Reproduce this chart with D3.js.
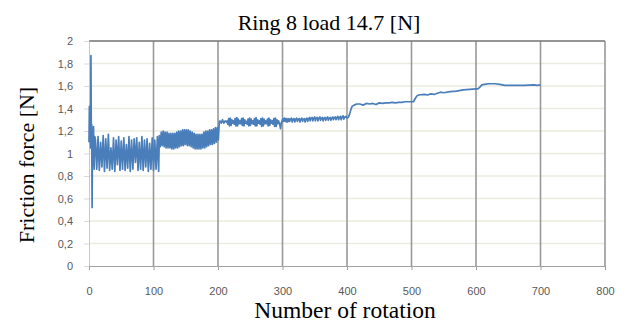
<!DOCTYPE html>
<html>
<head>
<meta charset="utf-8">
<script src="https://cdn.jsdelivr.net/npm/d3@7"></script>
<style>
  html, body { margin: 0; padding: 0; background: #fff; }
  svg { display: block; }
</style>
</head>
<body>
<div id="chart"></div>
<script>
const width = 628;
const height = 324;

const chartTitle = 'Ring 8 load 14.7 [N]';
const xTitle = 'Number of rotation';
const yTitle = 'Friction force [N]';
const xTicks = [0, 100, 200, 300, 400, 500, 600, 700, 800];
const yTicks = [0, 0.2, 0.4, 0.6, 0.8, 1, 1.2, 1.4, 1.6, 1.8, 2];

// [rotation, force], segment by segment
const startSpike = [
  [0, 1.10], [0.6, 1.42], [1.2, 1.12], [1.8, 1.28], [2.4, 1.05], [3, 1.87],
  [3.6, 1.10], [4.2, 1.26], [4.8, 0.52], [5.4, 1.18], [6, 0.90], [7, 1.24],
  [8, 0.86], [9, 1.15],
];
const zigzag = [
  [10, 1.12], [12, 0.86], [14, 1.15], [16, 0.85], [18, 1.10], [20, 0.88],
  [22, 1.16], [24, 0.84], [26, 1.13], [28, 0.87], [30, 1.17], [32, 0.85],
  [34, 1.05], [36, 0.86], [38, 1.14], [40, 0.84], [42, 1.12], [44, 0.90],
  [46, 1.15], [48, 0.85], [50, 1.11], [52, 0.86], [54, 1.14], [56, 0.85],
  [58, 1.08], [60, 0.87], [62, 1.15], [64, 0.84], [66, 1.12], [68, 0.86],
  [70, 1.13], [72, 0.92], [74, 1.14], [76, 0.85], [78, 1.10], [80, 0.86],
  [82, 1.15], [84, 0.85], [86, 1.12], [88, 0.88], [90, 1.13], [92, 0.84],
  [94, 1.09], [96, 0.86], [98, 1.14], [100, 0.85], [102, 1.12], [104, 0.86],
  [106, 1.15], [108, 0.84],
];
const band = [
  [109, 1.16], [110.5, 1.06], [112, 1.19], [113.5, 1.07], [115, 1.20], [116.5, 1.06],
  [118, 1.19], [119.5, 1.05], [121, 1.19], [122.5, 1.05], [124, 1.18], [125.5, 1.05],
  [127, 1.18], [128.5, 1.04], [130, 1.18], [131.5, 1.04], [133, 1.18], [134.5, 1.05],
  [136, 1.19], [137.5, 1.05], [139, 1.20], [140.5, 1.06], [142, 1.20], [143.5, 1.07],
  [145, 1.21], [146.5, 1.07], [148, 1.21], [149.5, 1.08], [151, 1.21], [152.5, 1.07],
  [154, 1.21], [155.5, 1.07], [157, 1.20], [158.5, 1.06], [160, 1.19], [161.5, 1.05],
  [163, 1.18], [164.5, 1.04], [166, 1.17], [167.5, 1.04], [169, 1.17], [170.5, 1.04],
  [172, 1.17], [173.5, 1.04], [175, 1.17], [176.5, 1.05], [178, 1.19], [179.5, 1.05],
  [181, 1.20], [182.5, 1.06], [184, 1.20], [185.5, 1.07], [187, 1.21], [188.5, 1.08],
  [190, 1.21], [191.5, 1.08], [193, 1.22], [194.5, 1.09], [196, 1.23], [197.5, 1.10],
  [199, 1.23], [200.5, 1.12],
];
const beads = [
  [202, 1.28], [203, 1.29], [205, 1.27], [207, 1.30], [209, 1.27], [211, 1.29], [213, 1.28],
  [214, 1.29], [215.25, 1.26], [216.5, 1.31], [217.75, 1.245], [219, 1.315], [220.25, 1.25], [221.5, 1.30], [222.75, 1.27],
  [224, 1.29], [225.25, 1.26], [226.5, 1.31], [227.75, 1.245], [229, 1.32], [230.25, 1.245], [231.5, 1.305], [232.75, 1.265],
  [234, 1.29], [235.25, 1.265], [236.5, 1.31], [237.75, 1.25], [239, 1.315], [240.25, 1.245], [241.5, 1.30], [242.75, 1.27],
  [244, 1.285], [245.25, 1.26], [246.5, 1.305], [247.75, 1.245], [249, 1.315], [250.25, 1.25], [251.5, 1.305], [252.75, 1.265],
  [254, 1.29], [255.25, 1.26], [256.5, 1.31], [257.75, 1.245], [259, 1.32], [260.25, 1.245], [261.5, 1.30], [262.75, 1.27],
  [264, 1.29], [265.25, 1.26], [266.5, 1.31], [267.75, 1.24], [269, 1.315], [270.25, 1.245], [271.5, 1.305], [272.75, 1.265],
  [274, 1.29], [275.25, 1.265], [276.5, 1.305], [277.75, 1.245], [279, 1.315], [280.25, 1.25], [281.5, 1.30], [282.75, 1.27],
  [284, 1.29], [285.25, 1.26], [286.5, 1.31], [287.75, 1.24], [289, 1.315], [290.25, 1.24], [291.5, 1.30], [292.75, 1.265],
  [294, 1.29], [296, 1.25], [297, 1.22], [298, 1.27], [300, 1.30],
];
const plateau300 = [
  [301, 1.31], [302, 1.285], [303, 1.315], [304, 1.29], [305, 1.31], [306, 1.28], [307, 1.31],
  [308, 1.28], [310, 1.31], [311, 1.285], [312, 1.30], [314, 1.315], [315, 1.28], [316, 1.30],
  [318, 1.31], [319, 1.28], [320, 1.30], [322, 1.315], [323, 1.285], [324, 1.30], [326, 1.31],
  [327, 1.28], [328, 1.30], [330, 1.315], [331, 1.285], [332, 1.30], [334, 1.31], [335, 1.28],
  [336, 1.30], [338, 1.315], [339, 1.285], [340, 1.30], [342, 1.32], [343, 1.29], [344, 1.31],
  [346, 1.32], [347, 1.29], [348, 1.31], [350, 1.325], [351, 1.29], [352, 1.31], [354, 1.32],
  [355, 1.29], [356, 1.31], [358, 1.325], [359, 1.295], [360, 1.31], [362, 1.32], [363, 1.29],
  [364, 1.31], [366, 1.32], [367, 1.295], [368, 1.31], [370, 1.325], [371, 1.295], [372, 1.31],
  [374, 1.32], [375, 1.295], [376, 1.31], [378, 1.325], [379, 1.30], [380, 1.315], [382, 1.325],
  [383, 1.30], [384, 1.315], [386, 1.33], [387, 1.30], [388, 1.315], [390, 1.33], [391, 1.30],
  [392, 1.32], [394, 1.335], [395, 1.305], [396, 1.32], [398, 1.33], [400, 1.315],
];
const steps = [
  [402, 1.32], [404, 1.35], [406, 1.39], [408, 1.42], [411, 1.43], [415, 1.44],
  [420, 1.44], [425, 1.43], [430, 1.445], [435, 1.44], [440, 1.445], [445, 1.435],
  [450, 1.45], [455, 1.445], [460, 1.45], [465, 1.45], [470, 1.455], [475, 1.45],
  [480, 1.455], [485, 1.455], [490, 1.46], [495, 1.46], [500, 1.46], [503, 1.46],
  [505, 1.48], [508, 1.51], [511, 1.52], [520, 1.525], [525, 1.52], [530, 1.53],
  [535, 1.525], [540, 1.535], [545, 1.545], [550, 1.54], [560, 1.55], [570, 1.555],
  [580, 1.565], [590, 1.57], [600, 1.575], [603, 1.575], [606, 1.59], [609, 1.61],
  [613, 1.615], [620, 1.62], [630, 1.62], [637, 1.615], [645, 1.605], [660, 1.605],
  [675, 1.605], [690, 1.61], [695, 1.605], [700, 1.61],
];

const series = [].concat(startSpike, zigzag, band, beads, plateau300, steps);

const svg = d3.select('#chart').append('svg')
  .attr('width', width)
  .attr('height', height);

const x = d3.scaleLinear().domain([0, 800]).range([89, 605]);
const y = d3.scaleLinear().domain([0, 2]).range([266, 41]);

// horizontal gridlines
svg.append('g')
  .selectAll('line')
  .data(yTicks.slice(1))
  .enter()
  .append('line')
  .attr('x1', x(0))
  .attr('x2', x(800))
  .attr('y1', (d) => y(d))
  .attr('y2', (d) => y(d))
  .attr('stroke', '#ecebdf')
  .attr('stroke-width', 1.5);

// vertical gridlines
svg.append('g')
  .selectAll('line')
  .data(xTicks.slice(1))
  .enter()
  .append('line')
  .attr('x1', (d) => x(d))
  .attr('x2', (d) => x(d))
  .attr('y1', y(2))
  .attr('y2', y(0))
  .attr('stroke', '#999')
  .attr('stroke-width', 1.6);

// top border
svg.append('line')
  .attr('x1', x(0)).attr('x2', x(800))
  .attr('y1', y(2)).attr('y2', y(2))
  .attr('stroke', '#777').attr('stroke-width', 1.5);

// left axis
const yAxis = svg.append('g')
  .attr('transform', `translate(${x(0)},0)`)
  .call(d3.axisLeft(y).tickValues(yTicks).tickSize(5).tickPadding(11)
    .tickFormat((d) => String(d).replace('.', ',')));
yAxis.select('.domain').attr('stroke', '#c8c8c8');
yAxis.selectAll('.tick line').attr('stroke', '#d8d8d8');

// bottom axis
const xAxis = svg.append('g')
  .attr('transform', `translate(0,${y(0)})`)
  .call(d3.axisBottom(x).tickValues(xTicks).tickSize(4).tickPadding(17));
xAxis.select('.domain').attr('stroke', '#a0a0a0');
xAxis.selectAll('.tick line').attr('stroke', '#a0a0a0');

svg.selectAll('.tick text')
  .attr('fill', '#595959')
  .style('font-family', '"Liberation Sans", Arial, sans-serif')
  .style('font-size', '11px');

// data line
svg.append('path')
  .datum(series)
  .attr('fill', 'none')
  .attr('stroke', '#4a7ebb')
  .attr('stroke-width', 1.7)
  .attr('stroke-linejoin', 'round')
  .attr('d', d3.line().x((d) => x(d[0])).y((d) => y(d[1])));

// titles
const serif = '"Liberation Serif", "Times New Roman", serif';
svg.append('text')
  .attr('x', 329).attr('y', 30)
  .attr('text-anchor', 'middle')
  .style('font-family', serif).style('font-size', '22px')
  .text(chartTitle);

svg.append('text')
  .attr('x', 345).attr('y', 318)
  .attr('text-anchor', 'middle')
  .style('font-family', serif).style('font-size', '23.5px')
  .text(xTitle);

svg.append('text')
  .attr('transform', 'translate(34,165) rotate(-90)')
  .attr('text-anchor', 'middle')
  .style('font-family', serif).style('font-size', '22px')
  .text(yTitle);
</script>
</body>
</html>
